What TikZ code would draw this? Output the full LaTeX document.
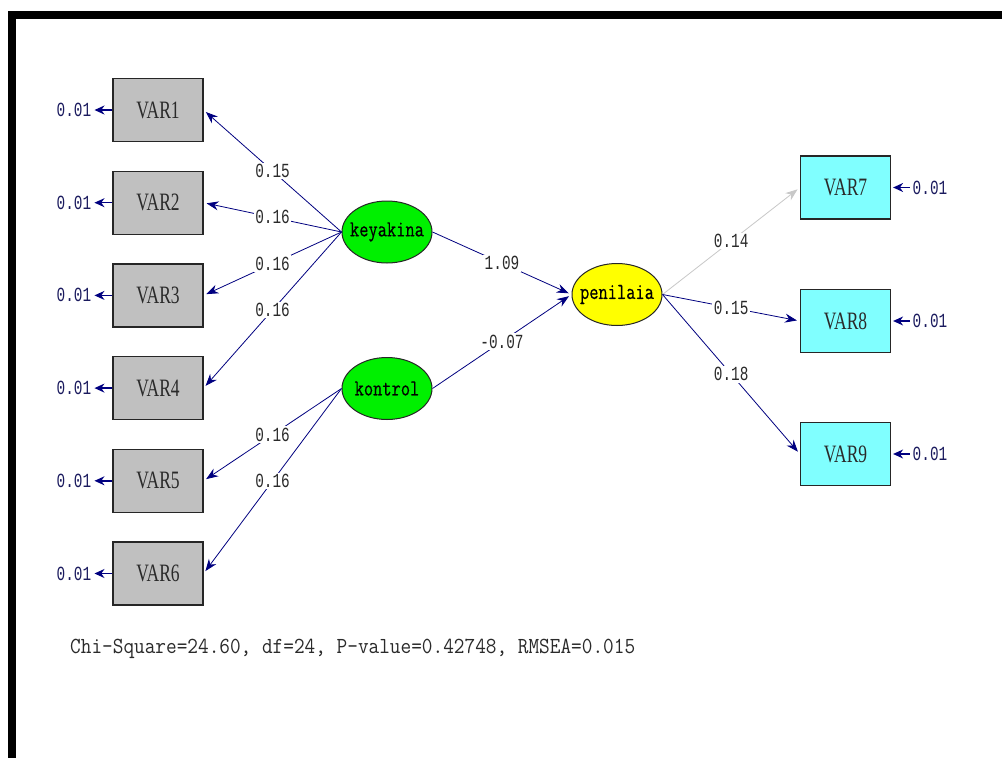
\documentclass[tikz,border=0pt]{standalone}
\usepackage{fontspec}
\usetikzlibrary{arrows.meta,shapes.geometric}
\newfontfamily\boxfont[FakeStretch=0.7]{Liberation Serif}
\newfontfamily\monofont[FakeStretch=0.72]{Liberation Mono}
\newfontfamily\serifmono[FakeStretch=0.9]{Latin Modern Mono}
\newfontfamily\latfont[FakeStretch=0.78,FakeBold=0.4]{Latin Modern Mono}
\definecolor{navy}{HTML}{000080}
\definecolor{boxgray}{HTML}{C0C0C0}
\definecolor{cyanbox}{HTML}{80FFFF}
\definecolor{lvgreen}{HTML}{00F000}
\definecolor{lvyellow}{HTML}{FFFF00}
\definecolor{lightarrow}{HTML}{C8C8C8}
\definecolor{txt}{HTML}{2A2A2A}
\definecolor{errtxt}{HTML}{1A1A5E}
\tikzset{
  obs/.style={rectangle, draw=black!85, line width=1.2pt, minimum width=90pt, minimum height=63pt, inner sep=0pt, font=\boxfont\fontsize{25}{25}\selectfont, text=txt},
  lat/.style={ellipse, draw=black!85, line width=1pt, minimum width=90pt, minimum height=62pt, inner sep=-8pt, font=\latfont\fontsize{23}{23}\selectfont, text=black},
  pathline/.style={draw=navy, line width=0.8pt, -{Stealth[length=12pt,width=9pt]}, shorten >=3pt},
  grayline/.style={draw=lightarrow, line width=0.8pt, -{Stealth[length=12pt,width=9pt]}, shorten >=3pt},
  lbl/.style={fill=white, inner sep=1.5pt, font=\monofont\fontsize{20}{20}\selectfont, text=txt},
  errlbl/.style={inner sep=1pt, font=\monofont\fontsize{20}{20}\selectfont, text=errtxt},
  errarr/.style={draw=navy, line width=1.4pt, -{Stealth[length=10pt,width=9pt]}}
}
\begin{document}
\begin{tikzpicture}[x=1pt,y=-1pt]
\useasboundingbox (0,0) rectangle (1002,758);
\fill[white] (0,0) rectangle (1002,758);
% frame
\fill[black] (8,11) rectangle (1002,19);
\fill[black] (8,11) rectangle (16,758);

% observed variables (left)
\node[obs, fill=boxgray] (v1) at (158,110) {VAR1};
\node[obs, fill=boxgray] (v2) at (158,202.7) {VAR2};
\node[obs, fill=boxgray] (v3) at (158,295.4) {VAR3};
\node[obs, fill=boxgray] (v4) at (158,388.1) {VAR4};
\node[obs, fill=boxgray] (v5) at (158,480.8) {VAR5};
\node[obs, fill=boxgray] (v6) at (158,573.5) {VAR6};
% observed variables (right)
\node[obs, fill=cyanbox] (v7) at (845.5,187.5) {VAR7};
\node[obs, fill=cyanbox] (v8) at (845.5,321) {VAR8};
\node[obs, fill=cyanbox] (v9) at (845.5,454) {VAR9};

% latent variables
\node[lat, fill=lvgreen] (k) at (387,232) {keyakina};
\node[lat, fill=lvgreen] (ko) at (387,388.5) {kontrol};
\node[lat, fill=lvyellow] (p) at (617,294.5) {penilaia};

% error terms
\foreach \v/\y in {1/110,2/202.7,3/295.4,4/388.1,5/480.8,6/573.5}{
  \node[errlbl] (e\v) at (74,\y) {0.01};
  \draw[errarr] (v\v.west) -- ([xshift=2pt]e\v.east);
}
\foreach \v/\y in {7/187.5,8/321,9/454}{
  \node[errlbl] (e\v) at (930,\y) {0.01};
  \draw[errarr] ([xshift=-2pt]e\v.west) -- ([xshift=2pt]v\v.east);
}

% loadings
\draw[pathline] (k.west) -- node[lbl] (l1) {0.15} (v1.east);
\draw[pathline] (k.west) -- node[lbl] (l2) {0.16} (v2.east);
\draw[pathline] (k.west) -- node[lbl] (l3) {0.16} (v3.east);
\draw[pathline] (k.west) -- node[lbl] (l4) {0.16} (v4.east);
\draw[pathline] (ko.west) -- node[lbl] (l5) {0.16} (v5.east);
\draw[pathline] (ko.west) -- node[lbl] (l6) {0.16} (v6.east);

% structural paths
\draw[pathline] (k.east) -- node[lbl] (g1) {1.09} (p.west);
\draw[pathline] (ko.east) -- node[lbl] (g2) {-0.07} (p.west);

\draw[grayline] (p.east) -- node[lbl] (l7) {0.14} (v7.west);
\draw[pathline] (p.east) -- node[lbl] (l8) {0.15} (v8.west);
\draw[pathline] (p.east) -- node[lbl] (l9) {0.18} (v9.west);

% fit statistics
\node[anchor=west, inner sep=0pt, font=\serifmono\fontsize{23}{23}\selectfont, text=txt] (chi) at (70,649) {Chi-Square=24.60, df=24, P-value=0.42748, RMSEA=0.015};
\end{tikzpicture}
\end{document}
